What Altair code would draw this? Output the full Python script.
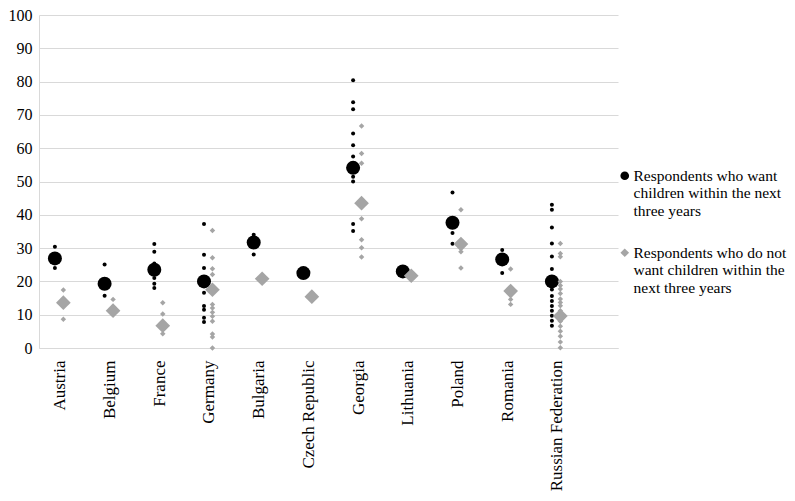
import json
import altair as alt
import pandas as pd

countries = ["Austria", "Belgium", "France", "Germany", "Bulgaria", "Czech Republic",
             "Georgia", "Lithuania", "Poland", "Romania", "Russian Federation"]

want_mean = [26.9, 19.3, 23.5, 20.0, 31.7, 22.5, 54.1, 23.0, 37.6, 26.6, 20.0]
notwant_mean = [13.6, 11.2, 6.7, 17.5, 20.8, 15.4, 43.5, 21.7, 31.2, 17.1, 9.6]

want_regions = [
    [30.4, 24.0],
    [25.1, 15.7],
    [31.2, 28.9, 25.4, 21.0, 19.3, 18.0],
    [37.2, 28.0, 24.0, 16.6, 12.6, 11.5, 9.1, 7.8],
    [34.0, 28.1],
    [],
    [80.4, 73.8, 71.7, 64.4, 60.9, 57.5, 51.4, 50.0, 37.2, 35.1],
    [],
    [46.7, 34.5, 31.3],
    [29.4, 22.5],
    [43.0, 41.5, 36.2, 31.4, 27.5, 23.7, 17.6, 15.6, 14.1, 12.6, 11.2, 9.7, 8.2, 6.7],
]
notwant_regions = [
    [17.4, 8.6],
    [14.6],
    [13.6, 10.2, 4.3],
    [35.3, 27.1, 23.8, 22.1, 13.1, 12.0, 10.7, 9.5, 8.0, 4.2, 3.3, 0.0],
    [],
    [],
    [66.7, 58.4, 55.5, 38.8, 32.5, 30.1, 27.3],
    [],
    [41.5, 28.9, 24.0],
    [23.7, 14.6, 13.1],
    [31.4, 28.4, 27.4, 20.0, 18.8, 17.7, 16.4, 14.7, 13.7, 12.7, 11.2, 8.0, 6.5, 5.0, 3.5, 1.8, 0.1],
]

series_names = ["Respondents who want children within the next three years",
                "Respondents who do not want children within the next three years"]
legend_lines = [["Respondents who want", "children within the next", "three years"],
                ["Respondents who do not", "want children within the", "next three years"]]

y_ticks = list(range(0, 101, 10))

# layout offsets (category units)
OFF_WANT = 0.32
OFF_NOT = 0.49
OFF_LABEL = 0.42
X_MAX = 11.65

FONT = "Liberation Serif"
GRAY = "#a5a5a5"
GRID = "#d9d9d9"

means_want = pd.DataFrame({"country": countries, "value": want_mean,
                           "x": [i + OFF_WANT for i in range(len(countries))],
                           "series": series_names[0]})
means_not = pd.DataFrame({"country": countries, "value": notwant_mean,
                          "x": [i + OFF_NOT for i in range(len(countries))],
                          "series": series_names[1]})
small_want = pd.DataFrame([{"country": c, "value": v, "x": i + OFF_WANT}
                           for i, (c, vals) in enumerate(zip(countries, want_regions)) for v in vals])
small_not = pd.DataFrame([{"country": c, "value": v, "x": i + OFF_NOT}
                          for i, (c, vals) in enumerate(zip(countries, notwant_regions)) for v in vals])

label_expr = json.dumps(countries) + f"[round(datum.value - {OFF_LABEL})]"
legend_expr = (f"datum.label == {json.dumps(series_names[0])} ? {json.dumps(legend_lines[0])} : "
               f"{json.dumps(legend_lines[1])}")

x_enc = alt.X("x:Q", scale=alt.Scale(domain=[0, X_MAX], nice=False, zero=False),
              axis=alt.Axis(values=[i + OFF_LABEL for i in range(len(countries))],
                            labelExpr=label_expr, title=None, grid=False, ticks=False,
                            labelAngle=270, labelAlign="right", labelBaseline="middle",
                            labelFont=FONT, labelFontSize=17, labelColor="#000000",
                            labelPadding=12, labelOverlap=False, labelFlush=False,
                            domainColor=GRID, domainWidth=1))
y_enc = alt.Y("value:Q", scale=alt.Scale(domain=[0, 100], nice=False),
              axis=alt.Axis(values=y_ticks, title=None, ticks=False, grid=True,
                            gridColor=GRID, gridWidth=1, domainColor=GRID,
                            labelFont=FONT, labelFontSize=16, labelColor="#000000",
                            labelPadding=7))

color_enc = alt.Color("series:N", scale=alt.Scale(domain=series_names, range=["#000000", GRAY]),
                      legend=alt.Legend(title=None, orient="none", legendX=578, legendY=153,
                                        symbolSize=75, symbolStrokeWidth=0,
                                        labelFont=FONT, labelFontSize=15.5, labelColor="#000000",
                                        labelBaseline="middle",
                                        labelExpr=legend_expr, labelLimit=240,
                                        labelOffset=1, rowPadding=25, padding=0))
shape_enc = alt.Shape("series:N", scale=alt.Scale(domain=series_names, range=["circle", "diamond"]))

l1 = alt.Chart(small_want).mark_point(filled=True, shape="circle", size=16, color="#000000",
                                      opacity=1).encode(x=x_enc, y=y_enc)
l2 = alt.Chart(means_want).mark_point(filled=True, size=196, opacity=1).encode(
    x=x_enc, y=y_enc, color=color_enc, shape=shape_enc)
l3 = alt.Chart(small_not).mark_point(filled=True, shape="diamond", size=30, color=GRAY,
                                     opacity=1).encode(x=x_enc, y=y_enc)
l4 = alt.Chart(means_not).mark_point(filled=True, size=216, opacity=1).encode(
    x=x_enc, y=y_enc, color=color_enc, shape=shape_enc)

chart = alt.layer(l1, l2, l3, l4).properties(
    width=579, height=333,
    autosize=alt.AutoSizeParams(type="none"),
    padding={"left": 31, "top": 7, "right": 169, "bottom": 144},
).configure_view(strokeWidth=0)

chart.save("out.html", embed_options={"renderer": "svg", "actions": False})
